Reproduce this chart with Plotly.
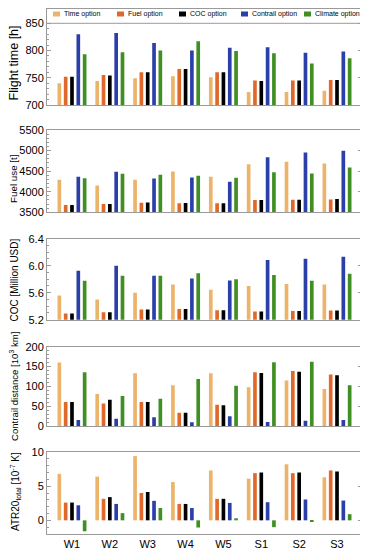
import plotly.graph_objects as go

cats = ["W1", "W2", "W3", "W4", "W5", "S1", "S2", "S3"]
options = ["Time option", "Fuel option", "COC option", "Contrail option", "Climate option"]
colors = ["#ECB36A", "#E0682A", "#000000", "#2B3FA8", "#3F8F22"]

# Flight time [h]
flight_time = {
    "Time option":     [740, 744, 749, 753, 751, 724, 724, 726],
    "Fuel option":     [752, 755, 760, 766, 760, 745, 745, 746],
    "COC option":      [752, 754, 760, 766, 760, 744, 745, 746],
    "Contrail option": [830, 832, 814, 800, 805, 806, 796, 798],
    "Climate option":  [793, 797, 800, 817, 799, 795, 776, 786],
}
# Fuel use [t]
fuel_use = {
    "Time option":     [4290, 4152, 4290, 4492, 4362, 4670, 4727, 4686],
    "Fuel option":     [3676, 3700, 3733, 3717, 3717, 3798, 3806, 3814],
    "COC option":      [3676, 3700, 3741, 3725, 3717, 3798, 3806, 3822],
    "Contrail option": [4362, 4484, 4322, 4346, 4241, 4840, 4953, 4994],
    "Climate option":  [4330, 4435, 4411, 4387, 4338, 4476, 4443, 4589],
}
# COC [Million USD]
coc = {
    "Time option":     [5.56, 5.50, 5.60, 5.72, 5.645, 5.70, 5.73, 5.72],
    "Fuel option":     [5.29, 5.31, 5.35, 5.36, 5.34, 5.32, 5.33, 5.335],
    "COC option":      [5.29, 5.31, 5.35, 5.36, 5.34, 5.32, 5.33, 5.335],
    "Contrail option": [5.926, 6.00, 5.85, 5.81, 5.78, 6.084, 6.104, 6.134],
    "Climate option":  [5.778, 5.852, 5.85, 5.89, 5.80, 5.862, 5.778, 5.88],
}
# Contrail distance [10^3 km]
contrail_dist = {
    "Time option":     [160, 81, 133, 103, 133, 98, 115, 94],
    "Fuel option":     [61, 57, 61, 34, 54, 136, 139, 130],
    "COC option":      [61, 67, 61, 34, 53, 134, 137, 128],
    "Contrail option": [16, 19, 23, 10, 25, 11, 14, 16],
    "Climate option":  [136, 76, 69, 119, 102, 161, 162, 103],
}
# ATR20 total [10^-7 K]
atr20 = {
    "Time option":     [6.8, 6.4, 9.4, 5.6, 7.3, 6.1, 8.2, 6.3],
    "Fuel option":     [2.6, 3.15, 4.0, 2.4, 3.15, 6.9, 6.9, 7.3],
    "COC option":      [2.6, 3.4, 4.15, 2.4, 3.15, 7.0, 7.0, 7.15],
    "Contrail option": [2.2, 2.4, 2.85, 1.8, 2.55, 2.65, 3.05, 2.9],
    "Climate option":  [-1.6, 1.05, 1.8, -1.05, 0.3, -1.0, -0.1, 0.9],
}

panels = [flight_time, fuel_use, coc, contrail_dist, atr20]
titles = ["Flight time [h]", "Fuel use [t]", "COC [Million USD]",
          "Contrail distance [10<sup>3</sup> km]", "ATR20<sub>total</sub> [10<sup>-7</sup> K]"]

# the page body has an 8px margin: lay the figure out in page pixels minus 8
OFF = 8
W, H = 368 - OFF, 550 - OFF
PL, PR, PT, PB = 47, 362, 9, 534          # plot area edges in page pixels
ML, MR, MT, MB = PL - OFF, W - (PR - OFF), PT - OFF, H - (PB - OFF)
plot_w = W - ML - MR
plot_h = H - MT - MB

def py(px):
    return (PB - px) / plot_h

def pxx(px):
    return (px - PL) / plot_w

domains = [(py(105), 1.0), (py(212.3), py(130)), (py(319.7), py(238.7)),
           (py(426.3), py(346.7)), (0.0, py(452))]
ranges = [[700, 850 + (23.3 - PT) / (81.7 / 150)], [3500, 5500], [5.2, 6.4], [0, 200], [-2, 10]]
tickvals = [[700, 750, 800, 850], [3500, 4000, 4500, 5000, 5500], [5.2, 5.6, 6.0, 6.4],
            [0, 50, 100, 150, 200], [0, 5, 10]]
minor_step = [10, 100, 0.1, 10, 1]
title_y = [63.5, 178.5, 280, 387, 492]
title_x = [14, 13.5, 13.5, 14, 15]
title_size = [12.5, 9.8, 10, 9.6, 10]

fig = go.Figure()
frame = "#9a9a9a"
font_fam = "Liberation Sans, Arial"
for i, data in enumerate(panels):
    n = "" if i == 0 else str(i + 1)
    for opt, col in zip(options, colors):
        fig.add_trace(go.Bar(x=cats, y=data[opt], name=opt, marker_color=col,
                             marker_line_width=0, showlegend=False,
                             xaxis="x" + n, yaxis="y" + n, offsetgroup=opt))
    lo, hi = ranges[i]
    top_minor = 850 if i == 0 else hi
    st = minor_step[i]
    mvals = []
    k = 0
    while lo + k * st <= top_minor + 1e-9:
        mvals.append(round(lo + k * st, 6))
        k += 1
    fig.layout["yaxis" + n] = dict(
        domain=list(domains[i]), range=ranges[i], anchor="x" + n,
        tickvals=tickvals[i], tickformat=".1f" if i == 2 else None,
        ticks="inside", ticklen=4, tickcolor=frame, showline=True, linecolor=frame,
        linewidth=1, mirror="allticks", showgrid=False, zeroline=False,
        automargin=False,
        tickfont=dict(size=11, color="black", family=font_fam),
        minor=dict(ticks="inside", ticklen=2, tickcolor=frame, tickvals=mvals),
    )
    fig.layout["xaxis" + n] = dict(
        domain=[0, 1], range=[-0.66, 7.66], anchor="y" + n, type="category",
        showline=True, linecolor=frame, mirror=True, ticks="",
        showticklabels=(i == 4), showgrid=False, zeroline=False, automargin=False,
        tickfont=dict(size=11, color="black", family=font_fam),
    )
    fig.add_annotation(text=titles[i], xref="paper", yref="paper",
                       x=pxx(title_x[i]), y=py(title_y[i]),
                       xanchor="center", yanchor="middle", textangle=-90,
                       showarrow=False,
                       font=dict(size=title_size[i], color="black", family=font_fam))

# custom legend: swatches and labels above the 850 line
leg_x = [53, 117, 179, 241, 304]
leg_y = 14
for opt, col, lx in zip(options, colors, leg_x):
    fig.add_shape(type="rect", xref="paper", yref="paper",
                  x0=pxx(lx), x1=pxx(lx + 7), y0=py(leg_y + 2.5), y1=py(leg_y - 2.5),
                  fillcolor=col, line=dict(width=0))
    fig.add_annotation(text=opt, xref="paper", yref="paper",
                       x=pxx(lx + 9), y=py(leg_y), xanchor="left", yanchor="middle",
                       showarrow=False,
                       font=dict(size=7, color="black", family=font_fam))

# legend box separator line at 850
fig.add_shape(type="line", xref="x domain", yref="y", x0=0, x1=1, y0=850, y1=850,
              line=dict(color=frame, width=1))

fig.update_layout(
    width=W, height=H,
    margin=dict(l=ML, r=MR, t=MT, b=MB, autoexpand=False),
    plot_bgcolor="white", paper_bgcolor="white",
    barmode="group", bargap=0.165, bargroupgap=0.42,
    showlegend=False,
    font=dict(family=font_fam, color="black"),
)

fig.write_html("out.html")
